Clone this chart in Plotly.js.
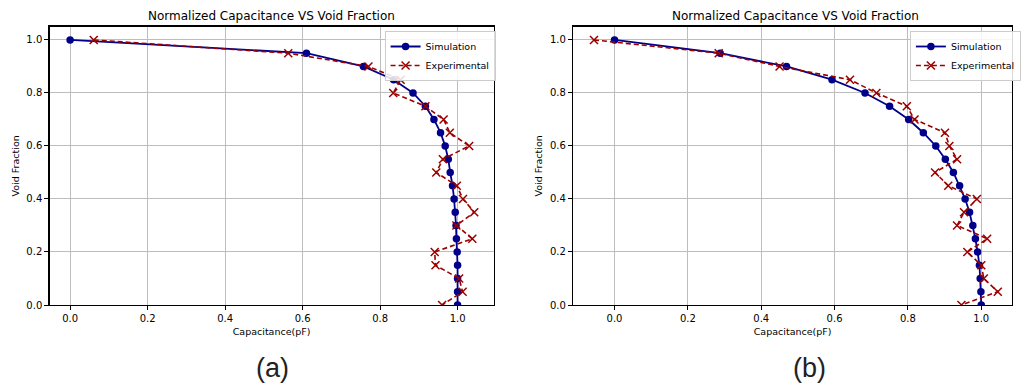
<!DOCTYPE html>
<html>
<head>
<meta charset="utf-8">
<script src="https://cdn.plot.ly/plotly-3.0.1.min.js"></script>
<style>html,body{margin:0;padding:0;background:#fff;}#chart{width:1021px;height:385px;}</style>
</head>
<body>
<div id="chart"></div>
<script>
// Void fraction levels (shared y values)
const voidFraction = [1.0, 0.95, 0.90, 0.85, 0.80, 0.75, 0.70, 0.65, 0.60, 0.55, 0.50,
                      0.45, 0.40, 0.35, 0.30, 0.25, 0.20, 0.15, 0.10, 0.05, 0.0];

// Panel (a)
const simA = [0.0, 0.61, 0.757, 0.835, 0.885, 0.917, 0.939, 0.956, 0.968, 0.976, 0.981,
              0.987, 0.991, 0.994, 0.996, 0.997, 0.999, 1.0, 1.0, 1.0, 1.0];
const expA = [0.061, 0.563, 0.77, 0.853, 0.834, 0.917, 0.964, 0.98, 1.03, 0.962, 0.945,
              0.998, 1.014, 1.043, 0.997, 1.038, 0.941, 0.943, 1.004, 1.013, 0.96];

// Panel (b)
const simB = [0.0, 0.288, 0.469, 0.593, 0.683, 0.75, 0.802, 0.842, 0.876, 0.902, 0.924,
              0.941, 0.956, 0.968, 0.977, 0.984, 0.99, 0.995, 0.997, 0.999, 1.0];
const expB = [-0.056, 0.284, 0.45, 0.642, 0.714, 0.797, 0.818, 0.901, 0.913, 0.934, 0.874,
              0.91, 0.988, 0.953, 0.934, 1.016, 0.962, 1.0, 1.007, 1.045, 0.946];

const xTicks = [0.0, 0.2, 0.4, 0.6, 0.8, 1.0];
const xTickText = ["0.0", "0.2", "0.4", "0.6", "0.8", "1.0"];
const yTicks = [0.0, 0.2, 0.4, 0.6, 0.8, 1.0];
const yTickText = ["0.0", "0.2", "0.4", "0.6", "0.8", "1.0"];

const chartTitle = "Normalized Capacitance VS Void Fraction";
const xLabel = "Capacitance(pF)";
const yLabel = "Void Fraction";
const panelLabels = ["(a)", "(b)"];
const seriesNames = ["Simulation", "Experimental"];

const SIM_COLOR = "#00008B";
const EXP_COLOR = "#9B0000";
const FONT = "DejaVu Sans, sans-serif";

function simTrace(x, xa, ya, lg) {
  return {x: x, y: voidFraction, xaxis: xa, yaxis: ya, type: "scatter", mode: "lines+markers",
    name: seriesNames[0], legend: lg, showlegend: true,
    line: {color: SIM_COLOR, width: 1.8},
    marker: {color: SIM_COLOR, size: 7.5, symbol: "circle"}};
}
function expTrace(x, xa, ya, lg) {
  return {x: x, y: voidFraction, xaxis: xa, yaxis: ya, type: "scatter", mode: "lines+markers",
    name: seriesNames[1], legend: lg, showlegend: true,
    line: {color: EXP_COLOR, width: 1.6, dash: "5px,3px"},
    marker: {color: EXP_COLOR, size: 8, symbol: "x-thin", line: {color: EXP_COLOR, width: 1.5}}};
}

const data = [
  simTrace(simA, "x", "y", "legend"),
  expTrace(expA, "x", "y", "legend"),
  simTrace(simB, "x2", "y2", "legend2"),
  expTrace(expB, "x2", "y2", "legend2")
];

function xAxis(domain, range, anchor) {
  return {domain: domain, range: range, anchor: anchor,
    tickvals: xTicks, ticktext: xTickText, ticks: "outside", ticklen: 4, tickwidth: 1, tickcolor: "#000",
    showgrid: true, gridcolor: "#bdbdbd", gridwidth: 1, zeroline: false,
    showline: true, linecolor: "#000", linewidth: 1.3, mirror: true,
    tickfont: {family: FONT, size: 10, color: "#000"},
    title: {text: xLabel, font: {family: FONT, size: 9.5, color: "#000"}, standoff: 5}};
}
function yAxis(domain, anchor) {
  return {domain: domain, range: [0, 1.05], anchor: anchor,
    tickvals: yTicks, ticktext: yTickText, ticks: "outside", ticklen: 4, tickwidth: 1, tickcolor: "#000",
    showgrid: true, gridcolor: "#bdbdbd", gridwidth: 1, zeroline: false,
    showline: true, linecolor: "#000", linewidth: 1.3, mirror: true,
    tickfont: {family: FONT, size: 10, color: "#000"},
    title: {text: yLabel, font: {family: FONT, size: 9.5, color: "#000"}, standoff: 5}};
}

const W = 1021, H = 385;
const yDom = [80 / H, (H - 26.7) / H];

function legendCfg(xLeft) {
  return {x: xLeft / W, xanchor: "left", y: (H - 31) / H, yanchor: "top",
    bgcolor: "rgba(255,255,255,0.85)", bordercolor: "#cccccc", borderwidth: 1,
    font: {family: FONT, size: 9.5, color: "#000"}, itemwidth: 30, tracegroupgap: 0};
}

const layout = {
  width: W, height: H,
  margin: {l: 0, r: 0, t: 0, b: 0, pad: 0},
  paper_bgcolor: "#fff", plot_bgcolor: "#fff",
  xaxis: xAxis([50 / W, 498 / W], [-0.053, 1.093], "y"),
  yaxis: yAxis(yDom, "x"),
  xaxis2: xAxis([578.3 / W, 1], [-0.1127, 1.0838], "y2"),
  yaxis2: yAxis(yDom, "x2"),
  legend: legendCfg(388),
  legend2: legendCfg(918),
  annotations: [
    {text: chartTitle, xref: "paper", yref: "paper", x: 274 / W, y: (H - 16) / H, xanchor: "center", yanchor: "middle",
     showarrow: false, font: {family: FONT, size: 12, color: "#000"}},
    {text: chartTitle, xref: "paper", yref: "paper", x: 803 / W, y: (H - 16) / H, xanchor: "center", yanchor: "middle",
     showarrow: false, font: {family: FONT, size: 12, color: "#000"}},
    {text: panelLabels[0], xref: "paper", yref: "paper", x: 275 / W, y: (H - 368) / H, xanchor: "center", yanchor: "middle",
     showarrow: false, font: {family: "Liberation Sans, Arial, sans-serif", size: 27, color: "#222"}},
    {text: panelLabels[1], xref: "paper", yref: "paper", x: 817 / W, y: (H - 368) / H, xanchor: "center", yanchor: "middle",
     showarrow: false, font: {family: "Liberation Sans, Arial, sans-serif", size: 27, color: "#222"}}
  ]
};

Plotly.newPlot("chart", data, layout, {displayModeBar: false, staticPlot: true});
</script>
</body>
</html>
